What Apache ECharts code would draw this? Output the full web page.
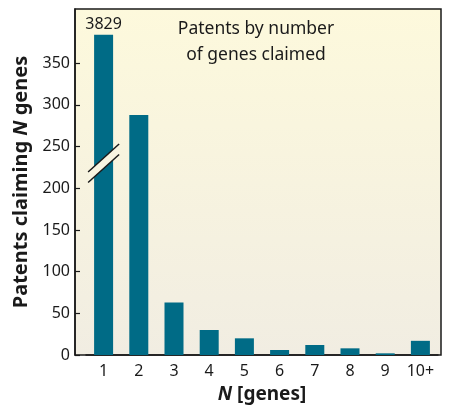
<!DOCTYPE html>
<html><head><meta charset="utf-8">
<script src="https://cdn.jsdelivr.net/npm/echarts@6/dist/echarts.min.js"></script>
<style>html,body{margin:0;padding:0;background:#fff}#c{width:449px;height:409px}</style>
</head><body><div id="c"></div>
<script>
var categories = ['1','2','3','4','5','6','7','8','9','10+'];
var plottedValues = [384, 288, 63, 30, 20, 6, 12, 8, 2, 17];
var barLabels = ['3829','','','','','','','','',''];
var yTicks = [0, 50, 100, 150, 200, 250, 300, 350];
var breakValue = 230;

var FONT = 'Noto Sans';
var INK = '#1a1a1a';
var chart = echarts.init(document.getElementById('c'), null, {renderer:'canvas'});
var option = {
  animation: false,
  textStyle: {fontFamily: FONT},
  grid: [
    {left: 75, right: 8, top: 9, bottom: 54, show: true, z: 0,
     backgroundColor: new echarts.graphic.LinearGradient(0,0,0,1,[{offset:0,color:'#fdf9dc'},{offset:1,color:'#f1ede2'}]),
     borderColor: INK, borderWidth: 1.5},
    {left: 86, right: 11, top: 9, bottom: 54}
  ],
  xAxis: [
    {gridIndex: 0, type: 'value', show: false},
    {gridIndex: 1, type: 'category', data: categories,
    axisLine: {show: true, lineStyle: {color: INK, width: 1.5}},
    axisTick: {show: false},
    axisLabel: {color: INK, fontSize: 16, margin: 8, interval: 0, hideOverlap: false, fontFamily: FONT},
    name: '{i|N} [genes]', nameLocation: 'middle', nameGap: 30,
    nameTextStyle: {fontSize: 19, fontWeight: 'bold', color: INK, fontFamily: FONT,
      rich: {i: {fontSize: 19, fontWeight: 'bold', fontStyle: 'italic', color: INK, fontFamily: FONT}}}}
  ],
  yAxis: [
    {gridIndex: 0, type: 'value', show: false},
    {gridIndex: 1, type: 'value', min: 0, max: 415, interval: 50, offset: 11,
    splitLine: {show: false},
    axisLine: {show: true, lineStyle: {color: INK, width: 1.5}},
    axisTick: {show: true, inside: true, length: 5, customValues: yTicks, lineStyle: {color: INK, width: 1.2}},
    axisLabel: {color: INK, fontSize: 16, margin: 5, fontFamily: FONT,
      formatter: function(v){ return yTicks.indexOf(v) >= 0 ? String(v) : ''; }},
    name: 'Patents claiming {i|N} genes', nameLocation: 'middle', nameGap: 39,
    nameTextStyle: {fontSize: 20, fontWeight: 'bold', color: INK, fontFamily: FONT,
      rich: {i: {fontSize: 20, fontWeight: 'bold', fontStyle: 'italic', color: INK, fontFamily: FONT}}}}
  ],
  series: [{
    type: 'bar', xAxisIndex: 1, yAxisIndex: 1, data: plottedValues, barWidth: 19,
    itemStyle: {color: '#006b86'},
    label: {show: true, position: 'top', distance: 2, fontSize: 16, color: INK, fontFamily: FONT,
      formatter: function(p){ return barLabels[p.dataIndex]; }}
  }]
};
chart.setOption(option);

var c = chart.convertToPixel({xAxisIndex:1, yAxisIndex:1}, [0, breakValue]);
var hw = 15.5, dy = 14, gap = 10.5;
var x1 = c[0]-hw, x2 = c[0]+hw, yTop = c[1]-gap/2, yBot = c[1]+gap/2;
chart.setOption({graphic: [
  {id: 'title', type: 'text', z: 50, x: 256, y: 16, style: {text: 'Patents by number\nof genes claimed',
      textAlign: 'center', fontSize: 17.5, lineHeight: 26, fill: INK, fontFamily: FONT}},
  {id: 'gapfill', type: 'polygon', z: 60, silent: true,
   shape: {points: [[x1, yTop+dy],[x2, yTop-dy],[x2, yBot-dy],[x1, yBot+dy]]},
   style: {fill: '#f8f4e1'}},
  {id: 'brk1', type: 'line', z: 61, silent: true, shape: {x1: x1, y1: yTop+dy, x2: x2, y2: yTop-dy}, style: {stroke: INK, lineWidth: 1.5}},
  {id: 'brk2', type: 'line', z: 61, silent: true, shape: {x1: x1, y1: yBot+dy, x2: x2, y2: yBot-dy}, style: {stroke: INK, lineWidth: 1.5}}
]});
</script></body></html>
